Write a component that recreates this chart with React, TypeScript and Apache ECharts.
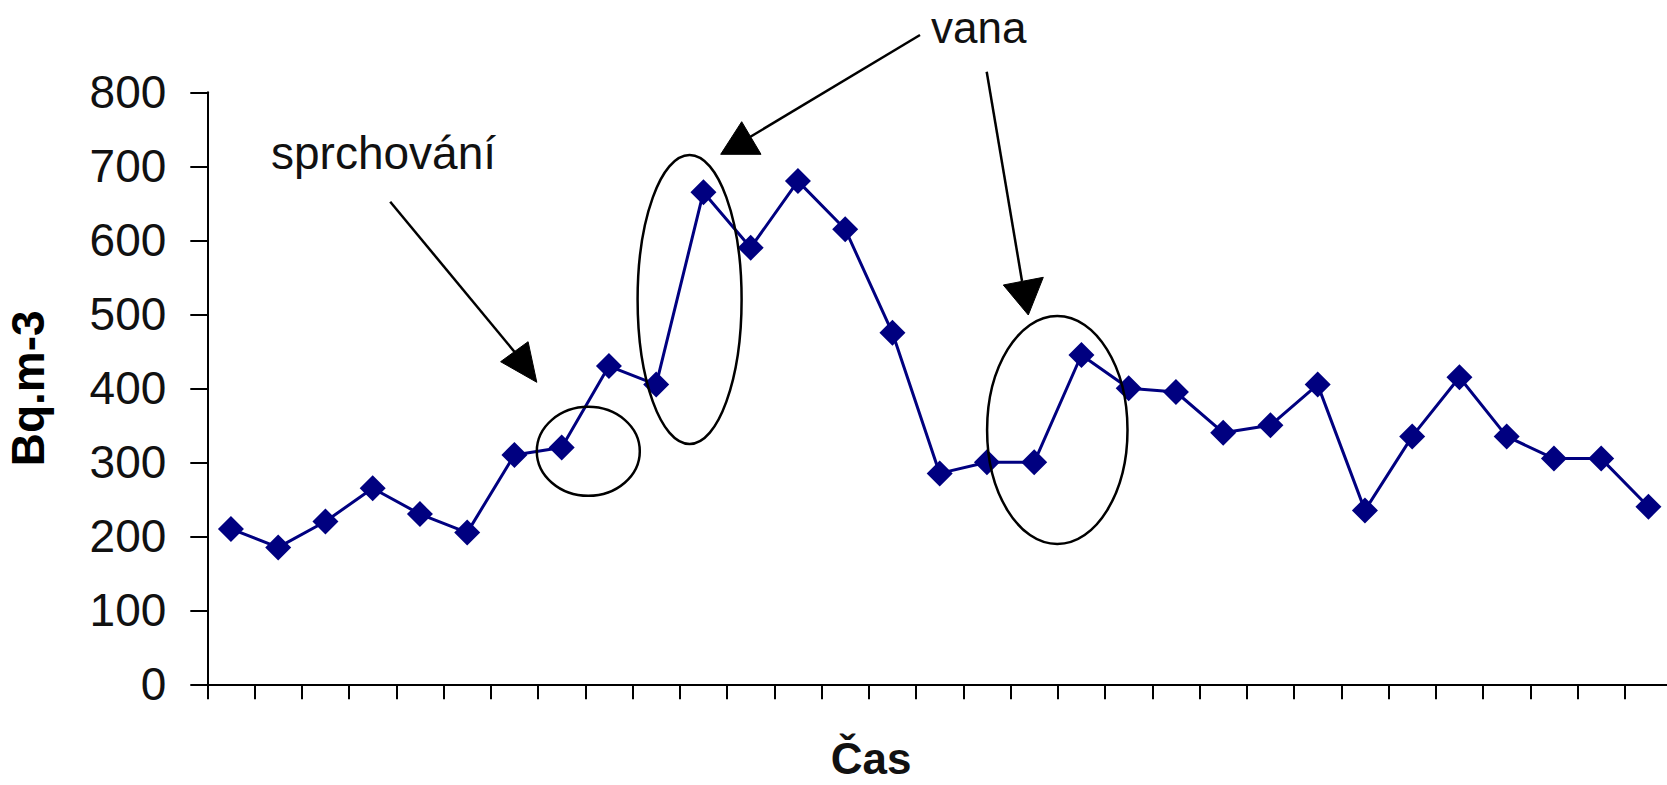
import React, { useEffect, useRef } from "react";
import * as echarts from "echarts";

const categories = [
  "1", "2", "3", "4", "5", "6", "7", "8", "9", "10",
  "11", "12", "13", "14", "15", "16", "17", "18", "19", "20",
  "21", "22", "23", "24", "25", "26", "27", "28", "29", "30", "31",
];

const values = [
  210, 185, 220, 265, 230, 205, 310, 320, 430, 405,
  665, 590, 680, 615, 475, 285, 300, 300, 445, 400,
  395, 340, 350, 405, 235, 335, 415, 335, 305, 305, 240,
];

const yMin = 0;
const yMax = 800;
const yInterval = 100;

const yTitle = "Bq.m-3";
const xTitle = "Čas";
const showerLabel = "sprchování";
const bathLabel = "vana";

const FONT = '"Liberation Sans", Arial, sans-serif';

export default function App() {
  const ref = useRef<HTMLDivElement>(null);

  useEffect(() => {
    if (!ref.current) return;
    const chart = echarts.init(ref.current, null, { renderer: "svg" });

    const txt = (text: string, x: number, y: number, size: number, weight: string, align: string) => ({
      type: "text",
      x,
      y,
      z: 10,
      style: {
        text,
        fill: "#111",
        fontSize: size,
        fontWeight: weight,
        fontFamily: FONT,
        align,
        textAlign: align,
        verticalAlign: "middle",
        textVerticalAlign: "middle",
      },
    });
    const ell = (cx: number, cy: number, rx: number, ry: number) => ({
      type: "ellipse",
      z: 10,
      shape: { cx, cy, rx, ry },
      style: { fill: "none", stroke: "#000", lineWidth: 2.5 },
    });
    const ln = (x1: number, y1: number, x2: number, y2: number) => ({
      type: "line",
      z: 10,
      shape: { x1, y1, x2, y2 },
      style: { stroke: "#000", lineWidth: 2.5 },
    });
    const tri = (pts: number[][]) => ({
      type: "polygon",
      z: 10,
      shape: { points: pts },
      style: { fill: "#000", stroke: "#000", lineWidth: 1 },
    });

    chart.setOption({
      animation: false,
      backgroundColor: "#fff",
      grid: {
        left: 207.3,
        top: 92.3,
        width: 1464.75,
        height: 592,
        containLabel: false,
        outerBoundsMode: "none",
      },
      xAxis: {
        type: "category",
        data: categories,
        boundaryGap: true,
        axisLine: { show: true, lineStyle: { color: "#000", width: 2 } },
        axisTick: { show: true, interval: 0, length: 15, lineStyle: { color: "#000", width: 2 } },
        axisLabel: { show: false },
        splitLine: { show: false },
      },
      yAxis: {
        type: "value",
        min: yMin,
        max: yMax,
        interval: yInterval,
        name: yTitle,
        nameLocation: "middle",
        nameRotate: 90,
        nameGap: 156,
        nameTextStyle: { fontSize: 46, fontWeight: "bold", fontFamily: FONT, color: "#000" },
        axisLine: { show: true, lineStyle: { color: "#000", width: 2 } },
        axisTick: { show: true, length: 17, lineStyle: { color: "#000", width: 2 } },
        axisLabel: {
          fontSize: 46,
          fontFamily: FONT,
          color: "#111",
          margin: 41,
          padding: [0, 0, 12, 0],
        },
        splitLine: { show: false },
      },
      series: [
        {
          type: "line",
          data: values,
          symbol: "diamond",
          symbolSize: 26,
          showSymbol: true,
          lineStyle: { color: "#000080", width: 3 },
          itemStyle: { color: "#000080" },
        },
      ],
      graphic: [
        txt(showerLabel, 271, 153, 46, "normal", "left"),
        txt(bathLabel, 931, 27, 44, "normal", "left"),
        txt(xTitle, 871, 758, 44, "bold", "center"),
        ell(588.3, 451.3, 51.5, 44.5),
        ell(689.6, 299.5, 52, 144.5),
        ell(1057.3, 430, 70.2, 114),
        ln(390.2, 201.7, 514.4, 351.7),
        tri([[536.8, 382.3], [500.6, 361.7], [528.1, 341.7]]),
        ln(920, 35, 750, 137),
        tri([[741.7, 121.7], [720.7, 154.3], [761, 154.3]]),
        ln(986.7, 71.7, 1022, 281),
        tri([[1003.3, 285], [1043.3, 277.3], [1028.3, 315]]),
      ],
    });

    return () => chart.dispose();
  }, []);

  return (
    <div
      ref={ref}
      style={{ position: "fixed", left: 0, top: 0, width: 1667, height: 785, background: "#fff" }}
    />
  );
}
